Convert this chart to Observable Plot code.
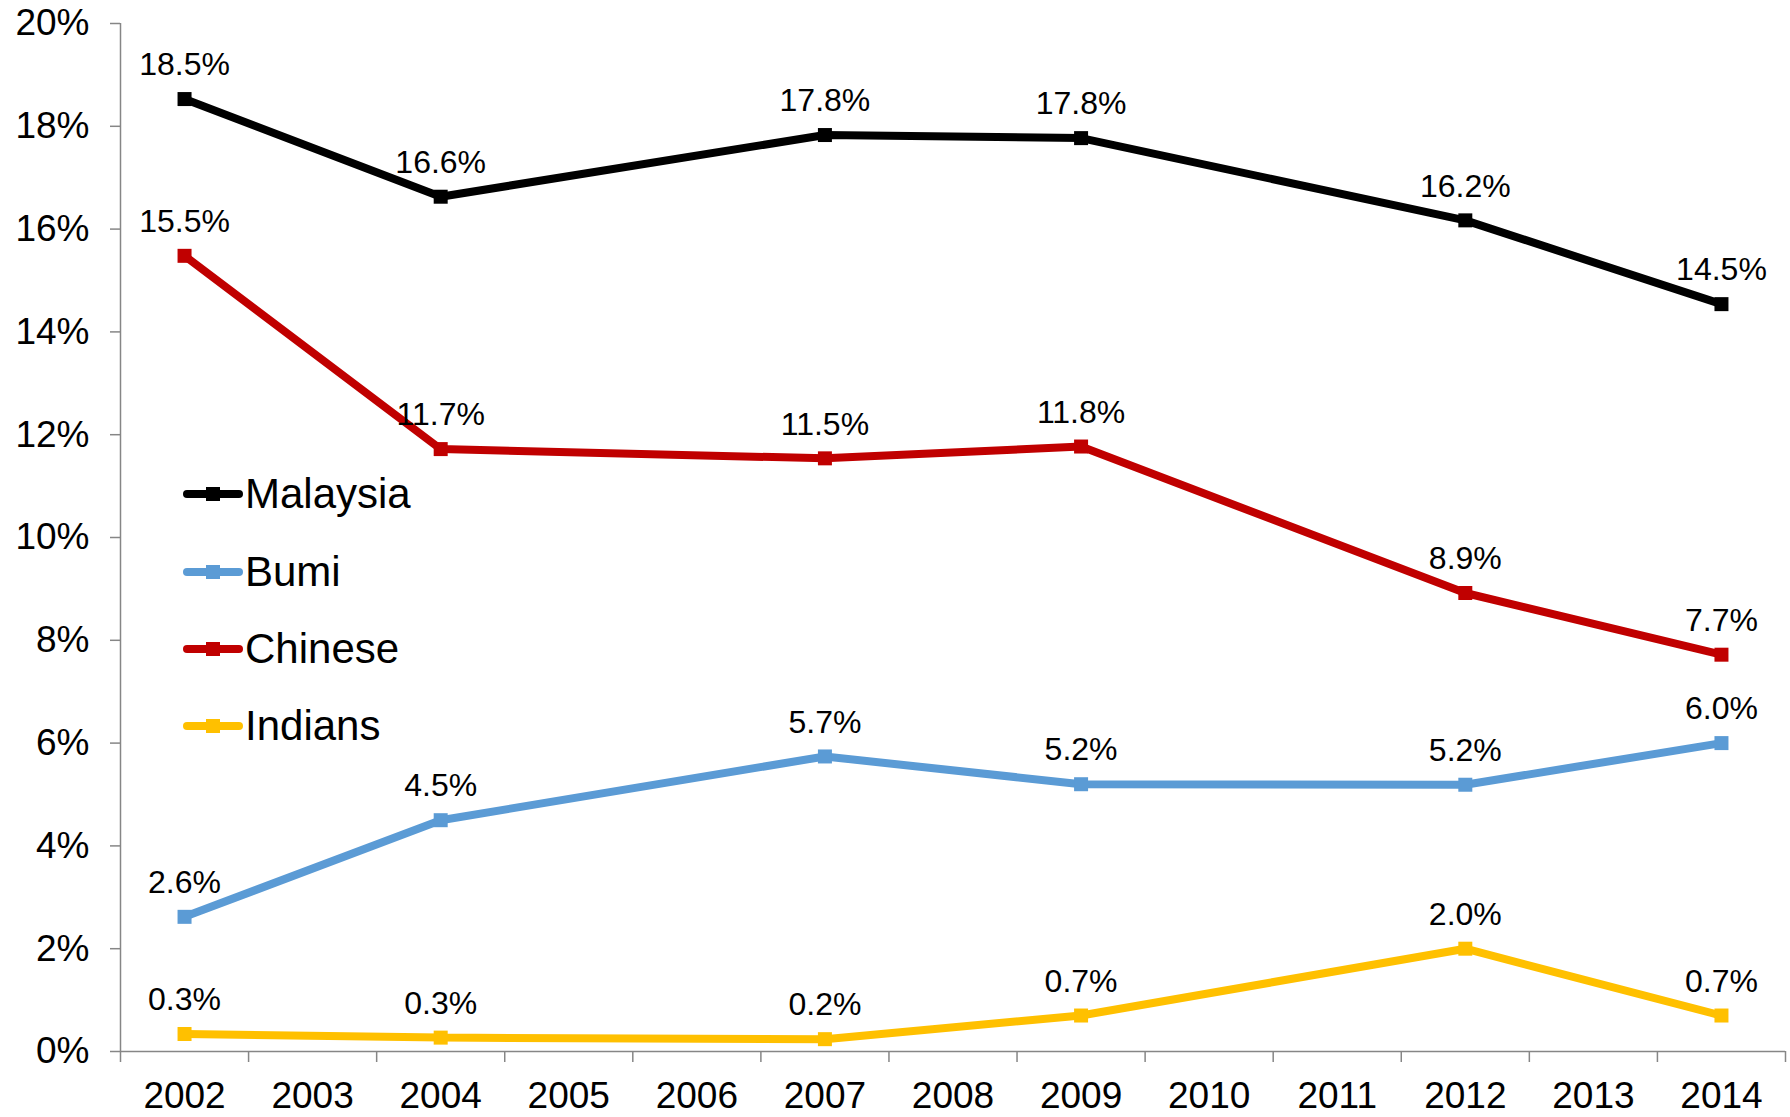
<!DOCTYPE html>
<html>
<head>
<meta charset="utf-8">
<script src="https://cdn.jsdelivr.net/npm/d3@7"></script>
<script src="https://cdn.jsdelivr.net/npm/@observablehq/plot@0.6"></script>
<style>
  html, body { margin: 0; padding: 0; background: #fff; }
  #wrap { position: relative; width: 1790px; height: 1117px; font-family: Arial, "Liberation Sans", sans-serif; }
  #legend { position: absolute; left: 0; top: 0; }
  .item { position: absolute; left: 182px; height: 50px; display: flex; align-items: center; font-size: 42px; color: #000; white-space: nowrap; }
  .item svg { display: block; margin-right: 1px; }
</style>
</head>
<body>
<div id="wrap"><div id="legend"></div></div>
<script>
// Categories (all years on the axis) and years with observations
const years = [2002, 2003, 2004, 2005, 2006, 2007, 2008, 2009, 2010, 2011, 2012, 2013, 2014];
const dataYears = [2002, 2004, 2007, 2009, 2012, 2014];

// Series
const seriesNames = ["Malaysia", "Bumi", "Chinese", "Indians"];
const malaysia = [18.53, 16.63, 17.83, 17.77, 16.17, 14.54];
const bumi = [2.62, 4.50, 5.74, 5.20, 5.19, 6.00];
const chinese = [15.48, 11.72, 11.54, 11.77, 8.92, 7.72];
const indians = [0.34, 0.27, 0.24, 0.70, 2.00, 0.70];
const seriesColors = ["#000000", "#5B9BD5", "#C00000", "#FFC000"];

// Y ticks
const yTicks = [0, 2, 4, 6, 8, 10, 12, 14, 16, 18, 20];

const seriesValues = [malaysia, bumi, chinese, indians];
const rows = [];
seriesNames.forEach((s, i) => {
  dataYears.forEach((yr, j) => rows.push({series: s, year: yr, value: seriesValues[i][j]}));
});
const boundaries = [years[0] - 0.5, ...years.map(y => y + 0.5)];

const chart = Plot.plot({
  width: 1790,
  height: 1117,
  marginLeft: 120,
  marginRight: 5,
  marginTop: 23,
  marginBottom: 66,
  style: {fontFamily: 'Arial, "Liberation Sans", sans-serif', background: "white", color: "black"},
  x: {domain: [years[0] - 0.5, years[years.length - 1] + 0.5], label: null},
  y: {domain: [0, 20], label: null},
  color: {domain: seriesNames, range: seriesColors},
  marks: [
    Plot.axisY(yTicks, {tickSize: 10, tickPadding: 21, fontSize: 37, tickFormat: d => d + "%", stroke: "#868686", strokeWidth: 1.5, label: null}),
    Plot.axisX(years, {tickSize: 0, tickPadding: 30, fontSize: 37, tickFormat: d => String(d), label: null}),
    Plot.axisX(boundaries, {tickSize: 11, tickFormat: () => "", stroke: "#868686", strokeWidth: 1.5, label: null}),
    Plot.ruleX([boundaries[0]], {stroke: "#868686", strokeWidth: 1.5}),
    Plot.ruleY([0], {stroke: "#868686", strokeWidth: 1.5}),
    Plot.line(rows, {x: "year", y: "value", z: "series", stroke: "series", strokeWidth: 8, strokeLinejoin: "miter"}),
    Plot.dot(rows, {x: "year", y: "value", fill: "series", symbol: "square", r: 7.9, stroke: null}),
    Plot.text(rows, {x: "year", y: "value", text: d => d.value.toFixed(1) + "%", dy: -34, fontSize: 32, fill: "black"})
  ]
});
document.getElementById("wrap").prepend(chart);

// Legend overlay
const legend = document.getElementById("legend");
const legendTops = [469, 547, 624, 701];
seriesNames.forEach((s, i) => {
  const item = document.createElement("div");
  item.className = "item";
  item.style.top = legendTops[i] + "px";
  item.innerHTML = `<svg width="62" height="20"><line x1="5" y1="10" x2="57" y2="10" stroke="${seriesColors[i]}" stroke-width="8" stroke-linecap="round"/><rect x="24" y="3" width="14" height="14" fill="${seriesColors[i]}"/></svg><span>${s}</span>`;
  legend.appendChild(item);
});
</script>
</body>
</html>
